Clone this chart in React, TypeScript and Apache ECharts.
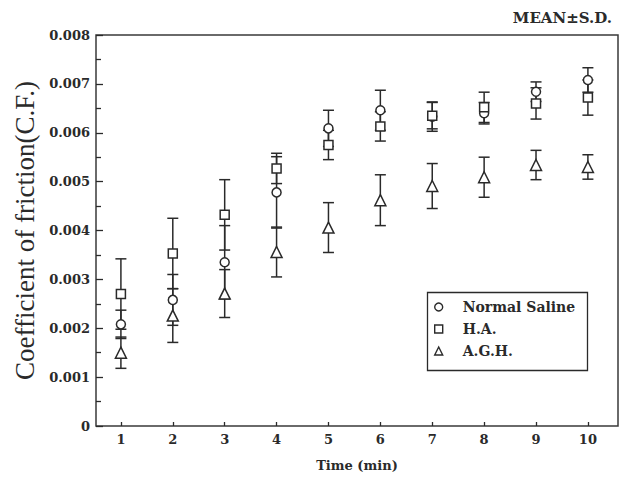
import React, { useEffect, useRef } from "react";
import * as echarts from "echarts";

const times = [1, 2, 3, 4, 5, 6, 7, 8, 9, 10];
const yTicks = [0, 0.001, 0.002, 0.003, 0.004, 0.005, 0.006, 0.007, 0.008];

const salineMean = [0.00208, 0.00258, 0.00335, 0.00478, 0.00609, 0.00646, 0.00633, 0.0064, 0.00684, 0.00708];
const salineSD = [0.00029, 0.00052, 0.00075, 0.00073, 0.00037, 0.00041, 0.0003, 0.00022, 0.0002, 0.00025];
const haMean = [0.0027, 0.00353, 0.00432, 0.00527, 0.00575, 0.00613, 0.00635, 0.00652, 0.0066, 0.00672];
const haSD = [0.00072, 0.00072, 0.00072, 0.00031, 0.0003, 0.0003, 0.00027, 0.00031, 0.00032, 0.00036];
const aghMean = [0.0015, 0.00226, 0.00271, 0.00356, 0.00406, 0.00462, 0.00491, 0.00509, 0.00534, 0.0053];
const aghSD = [0.00032, 0.00055, 0.00049, 0.00051, 0.00051, 0.00052, 0.00046, 0.00041, 0.0003, 0.00025];

const seriesNames = ["Normal Saline", "H.A.", "A.G.H."];
const seriesSymbols = ["circle", "rect", "triangle"];

const INK = "#2a2a2a";
const BOLD_FONT = "DejaVu Serif";

function errorSeries(name: string, mean: number[], sd: number[]) {
  return {
    type: "custom",
    name: name + " SD",
    z: 2,
    silent: true,
    data: times.map((t, i) => [t, mean[i] - sd[i], mean[i] + sd[i]]),
    renderItem: (params: any, api: any) => {
      const x = api.value(0);
      const lo = api.coord([x, api.value(1)]);
      const hi = api.coord([x, api.value(2)]);
      const hw = 5.5;
      const style = { stroke: INK, lineWidth: 1.5, fill: "none" };
      return {
        type: "group",
        children: [
          { type: "line", shape: { x1: lo[0], y1: lo[1], x2: hi[0], y2: hi[1] }, style },
          { type: "line", shape: { x1: hi[0] - hw, y1: hi[1], x2: hi[0] + hw, y2: hi[1] }, style },
          { type: "line", shape: { x1: lo[0] - hw, y1: lo[1], x2: lo[0] + hw, y2: lo[1] }, style },
        ],
      };
    },
  };
}

function pointSeries(name: string, mean: number[], symbol: string, size: number) {
  return {
    type: "scatter",
    name,
    z: 5,
    symbol,
    symbolSize: size,
    data: times.map((t, i) => [t, mean[i]]),
    itemStyle: { color: "#ffffff", borderColor: INK, borderWidth: 1.5, opacity: 1 },
  };
}

export default function App() {
  const ref = useRef<HTMLDivElement>(null);
  useEffect(() => {
    if (!ref.current) return;
    const chart = echarts.init(ref.current, undefined, { renderer: "svg" });
    chart.setOption({
      animation: false,
      backgroundColor: "#ffffff",
      title: {
        text: "MEAN±S.D.",
        right: 3,
        top: 5,
        textStyle: { fontFamily: BOLD_FONT, fontWeight: "bold", fontSize: 15, color: INK },
      },
      grid: {
        left: 96,
        right: 2,
        top: 35,
        bottom: 51,
        show: true,
        borderColor: "#3a3a3a",
        borderWidth: 1.5,
        backgroundColor: "transparent",
      },
      legend: {
        orient: "vertical",
        left: 434,
        top: 299,
        padding: 0,
        itemWidth: 8,
        itemHeight: 8,
        itemGap: 6,
        data: seriesNames.map((n, i) => ({
          name: n,
          icon: seriesSymbols[i],
          itemStyle: { color: "#ffffff", borderColor: INK, borderWidth: 1.4 },
        })),
        textStyle: {
          fontFamily: BOLD_FONT,
          fontWeight: "bold",
          fontSize: 14,
          color: INK,
          lineHeight: 16,
          padding: [0, 0, 0, 15],
        },
        selectedMode: false,
      },
      graphic: [
        {
          type: "rect",
          left: 425,
          top: 290,
          shape: { width: 160, height: 78 },
          style: { fill: "none", stroke: INK, lineWidth: 1.3 },
          z: 10,
        },
      ],
      xAxis: {
        type: "value",
        min: 0.52,
        max: 10.58,
        name: "Time (min)",
        nameLocation: "middle",
        nameGap: 33,
        nameTextStyle: { fontFamily: BOLD_FONT, fontWeight: "bold", fontSize: 13, color: INK },
        axisLine: { show: false },
        splitLine: { show: false },
        axisTick: { show: true, inside: true, length: 4, customValues: times, lineStyle: { color: INK, width: 1.3 } },
        axisLabel: {
          customValues: times,
          margin: 7,
          fontFamily: BOLD_FONT,
          fontWeight: "bold",
          fontSize: 13,
          color: INK,
        },
      },
      yAxis: {
        type: "value",
        min: 0,
        max: 0.008,
        interval: 0.001,
        name: "Coefficient of friction(C.F.)",
        nameLocation: "middle",
        nameGap: 56,
        nameTextStyle: { fontFamily: "Liberation Serif", fontSize: 27, color: INK },
        axisLine: { show: false },
        splitLine: { show: false },
        axisTick: { show: true, inside: true, length: 7, lineStyle: { color: INK, width: 1.3 } },
        minorTick: { show: true, splitNumber: 2, length: 5, lineStyle: { color: INK, width: 1.3 } },
        axisLabel: {
          margin: 6,
          fontFamily: BOLD_FONT,
          fontWeight: "bold",
          fontSize: 13,
          color: INK,
          customValues: yTicks,
          formatter: (v: number) => (v === 0 ? "0" : v.toFixed(3)),
        },
      },
      series: [
        errorSeries(seriesNames[0], salineMean, salineSD),
        errorSeries(seriesNames[1], haMean, haSD),
        errorSeries(seriesNames[2], aghMean, aghSD),
        pointSeries(seriesNames[0], salineMean, seriesSymbols[0], 9),
        pointSeries(seriesNames[1], haMean, seriesSymbols[1], 9),
        pointSeries(seriesNames[2], aghMean, seriesSymbols[2], 11),
      ],
    });
    return () => chart.dispose();
  }, []);
  return <div ref={ref} style={{ width: 620, height: 477, position: "absolute", left: 0, top: 0 }} />;
}
